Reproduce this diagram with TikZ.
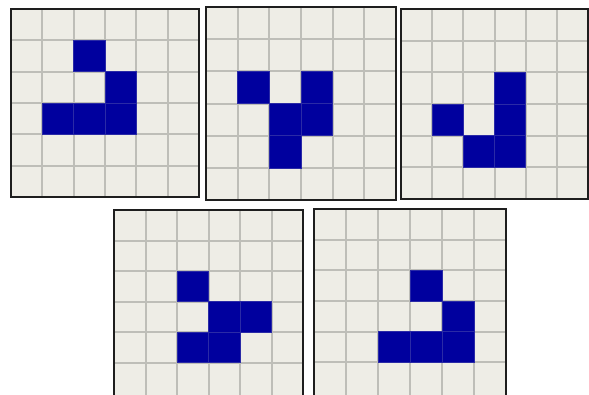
\documentclass[tikz,border=0pt]{standalone}
\definecolor{bgcell}{HTML}{EEEDE6}
\definecolor{gridgray}{HTML}{BEBEB8}
\definecolor{cellblue}{HTML}{00009E}
\definecolor{celledge}{HTML}{2A2AA6}
\definecolor{framedark}{HTML}{1E1E1E}
\tikzset{
  gridline/.style={draw=gridgray, line width=2pt},
  frameline/.style={draw=framedark, line width=2pt},
  livecell/.style={fill=cellblue, draw=celledge, line width=0.6pt}
}
% #1 x0, #2 y0, #3 x1, #4 y1 (cell area), #5 live cells, #6 extra frame length at bottom
\newcommand\lifegrid[6]{%
  \fill[bgcell] (#1,#2) rectangle (#3,{#4+#6});
  \foreach \i in {1,...,5}{
    \draw[gridline] ({#1+(#3-#1)*\i/6},#2) -- ({#1+(#3-#1)*\i/6},{#4+#6});
    \draw[gridline] (#1,{#2+(#4-#2)*\i/6}) -- (#3,{#2+(#4-#2)*\i/6});
  }
  \foreach \c/\r in {#5}{
    \filldraw[livecell] ({#1+(#3-#1)*\c/6},{#2+(#4-#2)*\r/6}) rectangle ({#1+(#3-#1)*(\c+1)/6},{#2+(#4-#2)*(\r+1)/6});
  }
  \draw[frameline] (#1,#2) rectangle (#3,{#4+#6});
}
\begin{document}
\begin{tikzpicture}[x=1pt,y=-1pt]
\useasboundingbox (0,0) rectangle (589,394);
\fill[white] (0,0) rectangle (589,394);
\begin{scope}
\clip (0,0) rectangle (589,394);
\lifegrid{11}{9}{199}{197}{2/1,3/2,1/3,2/3,3/3}{0}
\lifegrid{206}{7}{396}{200}{1/2,3/2,2/3,3/3,2/4}{0}
\lifegrid{401}{9}{588}{199}{3/2,1/3,3/3,2/4,3/4}{0}
\lifegrid{114}{210}{303}{393}{2/2,3/3,4/3,2/4,3/4}{6}
\lifegrid{314}{209}{506}{393}{3/2,4/3,2/4,3/4,4/4}{6}
\end{scope}
\end{tikzpicture}
\end{document}
